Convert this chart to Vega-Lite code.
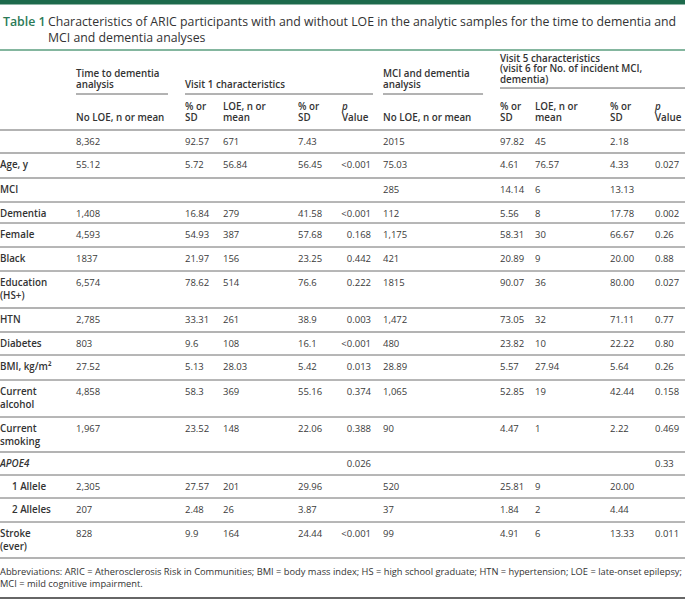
{
  "$schema": "https://vega.github.io/schema/vega-lite/v6.json",
  "width": 685,
  "height": 601,
  "padding": 0,
  "autosize": "none",
  "background": "white",
  "config": {"view": {"stroke": null}, "text": {"font": "Open Sans"}},
  "datasets": {
    "cols": [
      {"key": "c1", "col": 1}, {"key": "c2", "col": 2}, {"key": "c3", "col": 3}, {"key": "c4", "col": 4},
      {"key": "c5", "col": 5}, {"key": "c6", "col": 6}, {"key": "c7", "col": 7}, {"key": "c8", "col": 8},
      {"key": "c9", "col": 9}, {"key": "c10", "col": 10}
    ],
    "rows": [
      {"r": 0, "label": "", "c1": "8,362", "c2": "92.57", "c3": "671", "c4": "7.43", "c5": "", "c6": "2015", "c7": "97.82", "c8": "45", "c9": "2.18", "c10": ""},
      {"r": 1, "label": "Age, y", "c1": "55.12", "c2": "5.72", "c3": "56.84", "c4": "56.45", "c5": "<0.001", "c6": "75.03", "c7": "4.61", "c8": "76.57", "c9": "4.33", "c10": "0.027"},
      {"r": 2, "label": "MCI", "c1": "", "c2": "", "c3": "", "c4": "", "c5": "", "c6": "285", "c7": "14.14", "c8": "6", "c9": "13.13", "c10": ""},
      {"r": 3, "label": "Dementia", "c1": "1,408", "c2": "16.84", "c3": "279", "c4": "41.58", "c5": "<0.001", "c6": "112", "c7": "5.56", "c8": "8", "c9": "17.78", "c10": "0.002"},
      {"r": 4, "label": "Female", "c1": "4,593", "c2": "54.93", "c3": "387", "c4": "57.68", "c5": "0.168", "c6": "1,175", "c7": "58.31", "c8": "30", "c9": "66.67", "c10": "0.26"},
      {"r": 5, "label": "Black", "c1": "1837", "c2": "21.97", "c3": "156", "c4": "23.25", "c5": "0.442", "c6": "421", "c7": "20.89", "c8": "9", "c9": "20.00", "c10": "0.88"},
      {"r": 6, "label": "Education\n(HS+)", "c1": "6,574", "c2": "78.62", "c3": "514", "c4": "76.6", "c5": "0.222", "c6": "1815", "c7": "90.07", "c8": "36", "c9": "80.00", "c10": "0.027"},
      {"r": 7, "label": "HTN", "c1": "2,785", "c2": "33.31", "c3": "261", "c4": "38.9", "c5": "0.003", "c6": "1,472", "c7": "73.05", "c8": "32", "c9": "71.11", "c10": "0.77"},
      {"r": 8, "label": "Diabetes", "c1": "803", "c2": "9.6", "c3": "108", "c4": "16.1", "c5": "<0.001", "c6": "480", "c7": "23.82", "c8": "10", "c9": "22.22", "c10": "0.80"},
      {"r": 9, "label": "BMI, kg/m²", "c1": "27.52", "c2": "5.13", "c3": "28.03", "c4": "5.42", "c5": "0.013", "c6": "28.89", "c7": "5.57", "c8": "27.94", "c9": "5.64", "c10": "0.26"},
      {"r": 10, "label": "Current\nalcohol", "c1": "4,858", "c2": "58.3", "c3": "369", "c4": "55.16", "c5": "0.374", "c6": "1,065", "c7": "52.85", "c8": "19", "c9": "42.44", "c10": "0.158"},
      {"r": 11, "label": "Current\nsmoking", "c1": "1,967", "c2": "23.52", "c3": "148", "c4": "22.06", "c5": "0.388", "c6": "90", "c7": "4.47", "c8": "1", "c9": "2.22", "c10": "0.469"},
      {"r": 12, "label": "APOE4", "c1": "", "c2": "", "c3": "", "c4": "", "c5": "0.026", "c6": "", "c7": "", "c8": "", "c9": "", "c10": "0.33"},
      {"r": 13, "label": "1 Allele", "c1": "2,305", "c2": "27.57", "c3": "201", "c4": "29.96", "c5": "", "c6": "520", "c7": "25.81", "c8": "9", "c9": "20.00", "c10": ""},
      {"r": 14, "label": "2 Alleles", "c1": "207", "c2": "2.48", "c3": "26", "c4": "3.87", "c5": "", "c6": "37", "c7": "1.84", "c8": "2", "c9": "4.44", "c10": ""},
      {"r": 15, "label": "Stroke\n(ever)", "c1": "828", "c2": "9.9", "c3": "164", "c4": "24.44", "c5": "<0.001", "c6": "99", "c7": "4.91", "c8": "6", "c9": "13.33", "c10": "0.011"}
    ]
  },
  "layer": [
    {
      "data": {"values": [{"y": -5, "x0": 0, "x1": 11}]},
      "mark": {"type": "rule", "color": "#1d6a4c", "strokeWidth": 5},
      "encoding": {
        "x": {"field": "x0", "type": "quantitative", "axis": null, "scale": {"domain": [0,1,2,3,4,5,6,7,8,9,10,11], "range": [0,76,185,223,298,342,383,500,535,610,655,685], "nice": false, "zero": false}},
        "x2": {"field": "x1"},
        "y": {"field": "y", "type": "quantitative", "axis": null, "scale": {"domain": [-5,-4,-2,-1,0,1,2,3,4,5,6,7,8,9,10,11,12,13,14,15,16,17], "range": [2,26,50,94,130,153,178,202,223,247,271,308,332,355,380,417,452,475,498,522,558,598], "nice": false, "zero": false}}
      }
    },
    {
      "data": {"values": [{"y": -2, "x0": 0, "x1": 11}]},
      "mark": {"type": "rule", "color": "#5b9e7f", "strokeWidth": 1.5},
      "encoding": {
        "x": {"field": "x0", "type": "quantitative", "axis": null},
        "x2": {"field": "x1"},
        "y": {"field": "y", "type": "quantitative", "axis": null}
      }
    },
    {
      "data": {"values": [{"y": 0, "x0": 0, "x1": 11}, {"y": 1, "x0": 0, "x1": 11}, {"y": 2, "x0": 0, "x1": 11}, {"y": 7, "x0": 0, "x1": 11}, {"y": 8, "x0": 0, "x1": 11}, {"y": 12, "x0": 0, "x1": 11}, {"y": 16, "x0": 0, "x1": 11}]},
      "mark": {"type": "rule", "color": "#b3b3b3", "strokeWidth": 2},
      "encoding": {
        "x": {"field": "x0", "type": "quantitative", "axis": null},
        "x2": {"field": "x1"},
        "y": {"field": "y", "type": "quantitative", "axis": null}
      }
    },
    {
      "data": {"values": [{"y": 3, "x0": 0, "x1": 11}, {"y": 4, "x0": 0, "x1": 11}, {"y": 5, "x0": 0, "x1": 11}, {"y": 6, "x0": 0, "x1": 11}, {"y": 9, "x0": 0, "x1": 11}, {"y": 10, "x0": 0, "x1": 11}, {"y": 11, "x0": 0, "x1": 11}, {"y": 13, "x0": 0, "x1": 11}, {"y": 14, "x0": 0, "x1": 11}, {"y": 15, "x0": 0, "x1": 11}]},
      "mark": {"type": "rule", "color": "#6e6e6e", "strokeWidth": 1},
      "encoding": {
        "x": {"field": "x0", "type": "quantitative", "axis": null},
        "x2": {"field": "x1"},
        "y": {"field": "y", "type": "quantitative", "axis": null}
      }
    },
    {
      "data": {"values": [{"y": 17, "x0": 0, "x1": 11}]},
      "mark": {"type": "rule", "color": "#333333", "strokeWidth": 1.3},
      "encoding": {
        "x": {"field": "x0", "type": "quantitative", "axis": null},
        "x2": {"field": "x1"},
        "y": {"field": "y", "type": "quantitative", "axis": null}
      }
    },
    {
      "data": {"values": [{"y": -1, "x0": 1, "x1": 1.844}, {"y": -1, "x0": 2, "x1": 5.756}, {"y": -1, "x0": 6, "x1": 6.855}, {"y": -1.136, "x0": 7, "x1": 11}]},
      "mark": {"type": "rule", "color": "#666666", "strokeWidth": 1},
      "encoding": {
        "x": {"field": "x0", "type": "quantitative", "axis": null},
        "x2": {"field": "x1"},
        "y": {"field": "y", "type": "quantitative", "axis": null}
      }
    },
    {
      "data": {"values": [{"t": "Table 1"}]},
      "mark": {"type": "text", "fontSize": 12.3, "fontWeight": 600, "color": "#2b7a57", "align": "left", "baseline": "alphabetic", "dx": 3},
      "encoding": {
        "x": {"datum": 0, "type": "quantitative", "axis": null},
        "y": {"datum": -4, "type": "quantitative", "axis": null},
        "text": {"field": "t"}
      }
    },
    {
      "data": {"values": [{"t": "Characteristics of ARIC participants with and without LOE in the analytic samples for the time to dementia and\nMCI and dementia analyses"}]},
      "mark": {"type": "text", "fontSize": 12.3, "color": "#333333", "align": "left", "baseline": "alphabetic", "dx": 48, "lineBreak": "\n", "lineHeight": 16},
      "encoding": {
        "x": {"datum": 0, "type": "quantitative", "axis": null},
        "y": {"datum": -4, "type": "quantitative", "axis": null},
        "text": {"field": "t"}
      }
    },
    {
      "data": {"values": [{"col": 2, "y": -1, "t": "Visit 1 characteristics"}]},
      "mark": {"type": "text", "fontSize": 9.8, "fontWeight": 600, "color": "#333333", "align": "left", "baseline": "alphabetic", "dy": -6.5},
      "encoding": {
        "x": {"field": "col", "type": "quantitative", "axis": null},
        "y": {"field": "y", "type": "quantitative", "axis": null},
        "text": {"field": "t"}
      }
    },
    {
      "data": {"values": [
        {"col": 1, "y": -1, "t": "Time to dementia\nanalysis"},
        {"col": 6, "y": -1, "t": "MCI and dementia\nanalysis"}
      ]},
      "mark": {"type": "text", "fontSize": 9.8, "fontWeight": 600, "color": "#333333", "align": "left", "baseline": "alphabetic", "dy": -17.5, "lineBreak": "\n", "lineHeight": 11},
      "encoding": {
        "x": {"field": "col", "type": "quantitative", "axis": null},
        "y": {"field": "y", "type": "quantitative", "axis": null},
        "text": {"field": "t"}
      }
    },
    {
      "data": {"values": [{"col": 7, "y": -1.136, "t": "Visit 5 characteristics\n(visit 6 for No. of incident MCI,\ndementia)"}]},
      "mark": {"type": "text", "fontSize": 9.8, "fontWeight": 600, "color": "#333333", "align": "left", "baseline": "alphabetic", "dy": -26.5, "lineBreak": "\n", "lineHeight": 10.5},
      "encoding": {
        "x": {"field": "col", "type": "quantitative", "axis": null},
        "y": {"field": "y", "type": "quantitative", "axis": null},
        "text": {"field": "t"}
      }
    },
    {
      "data": {"values": [
        {"col": 1, "t": "No LOE, n or mean"},
        {"col": 5, "t": "Value"},
        {"col": 6, "t": "No LOE, n or mean"},
        {"col": 10, "t": "Value"}
      ]},
      "mark": {"type": "text", "fontSize": 9.8, "fontWeight": 600, "color": "#333333", "align": "left", "baseline": "alphabetic", "dy": -9.5},
      "encoding": {
        "x": {"field": "col", "type": "quantitative", "axis": null},
        "y": {"datum": 0, "type": "quantitative", "axis": null},
        "text": {"field": "t"}
      }
    },
    {
      "data": {"values": [
        {"col": 2, "t": "% or\nSD"},
        {"col": 3, "t": "LOE, n or\nmean"},
        {"col": 4, "t": "% or\nSD"},
        {"col": 7, "t": "% or\nSD"},
        {"col": 8, "t": "LOE, n or\nmean"},
        {"col": 9, "t": "% or\nSD"}
      ]},
      "mark": {"type": "text", "fontSize": 9.8, "fontWeight": 600, "color": "#333333", "align": "left", "baseline": "alphabetic", "dy": -20.5, "lineBreak": "\n", "lineHeight": 11},
      "encoding": {
        "x": {"field": "col", "type": "quantitative", "axis": null},
        "y": {"datum": 0, "type": "quantitative", "axis": null},
        "text": {"field": "t"}
      }
    },
    {
      "data": {"values": [{"col": 5, "t": "p"}, {"col": 10, "t": "p"}]},
      "mark": {"type": "text", "fontSize": 9.8, "fontWeight": 600, "fontStyle": "italic", "color": "#333333", "align": "left", "baseline": "alphabetic", "dy": -20.5},
      "encoding": {
        "x": {"field": "col", "type": "quantitative", "axis": null},
        "y": {"datum": 0, "type": "quantitative", "axis": null},
        "text": {"field": "t"}
      }
    },
    {
      "data": {"name": "rows"},
      "transform": [
        {"fold": ["c1", "c2", "c3", "c4", "c5", "c6", "c7", "c8", "c9", "c10"], "as": ["key", "t"]},
        {"filter": "datum.t !== '' && datum.key !== 'c5'"},
        {"lookup": "key", "from": {"data": {"name": "cols"}, "key": "key", "fields": ["col"]}}
      ],
      "mark": {"type": "text", "fontSize": 9.5, "color": "#3a3a3a", "align": "left", "baseline": "alphabetic", "dy": 14.5},
      "encoding": {
        "x": {"field": "col", "type": "quantitative", "axis": null},
        "y": {"field": "r", "type": "quantitative", "axis": null},
        "text": {"field": "t"}
      }
    },
    {
      "data": {"name": "rows"},
      "transform": [{"filter": "datum.c5 !== ''"}],
      "mark": {"type": "text", "fontSize": 9.5, "color": "#3a3a3a", "align": "right", "baseline": "alphabetic", "dy": 14.5, "dx": 29},
      "encoding": {
        "x": {"datum": 5, "type": "quantitative", "axis": null},
        "y": {"field": "r", "type": "quantitative", "axis": null},
        "text": {"field": "c5"}
      }
    },
    {
      "data": {"name": "rows"},
      "transform": [{"filter": "datum.label !== '' && datum.label !== 'APOE4' && indexof(datum.label, 'Allele') < 0"}],
      "mark": {"type": "text", "fontSize": 9.8, "fontWeight": 600, "color": "#333333", "align": "left", "baseline": "alphabetic", "dy": 14.5, "lineBreak": "\n", "lineHeight": 13},
      "encoding": {
        "x": {"datum": 0, "type": "quantitative", "axis": null},
        "y": {"field": "r", "type": "quantitative", "axis": null},
        "text": {"field": "label"}
      }
    },
    {
      "data": {"name": "rows"},
      "transform": [{"filter": "indexof(datum.label, 'Allele') >= 0"}],
      "mark": {"type": "text", "fontSize": 9.8, "fontWeight": 600, "color": "#333333", "align": "left", "baseline": "alphabetic", "dy": 14.5, "dx": 12},
      "encoding": {
        "x": {"datum": 0, "type": "quantitative", "axis": null},
        "y": {"field": "r", "type": "quantitative", "axis": null},
        "text": {"field": "label"}
      }
    },
    {
      "data": {"name": "rows"},
      "transform": [{"filter": "datum.label === 'APOE4'"}],
      "mark": {"type": "text", "fontSize": 9.8, "fontWeight": 600, "fontStyle": "italic", "color": "#333333", "align": "left", "baseline": "alphabetic", "dy": 14.5},
      "encoding": {
        "x": {"datum": 0, "type": "quantitative", "axis": null},
        "y": {"field": "r", "type": "quantitative", "axis": null},
        "text": {"field": "label"}
      }
    },
    {
      "data": {"values": [{"t": "Abbreviations: ARIC = Atherosclerosis Risk in Communities; BMI = body mass index; HS = high school graduate; HTN = hypertension; LOE = late-onset epilepsy;\nMCI = mild cognitive impairment."}]},
      "mark": {"type": "text", "fontSize": 9.3, "color": "#333333", "align": "left", "baseline": "alphabetic", "dy": 17, "lineBreak": "\n", "lineHeight": 11.5},
      "encoding": {
        "x": {"datum": 0, "type": "quantitative", "axis": null},
        "y": {"datum": 16, "type": "quantitative", "axis": null},
        "text": {"field": "t"}
      }
    }
  ]
}
